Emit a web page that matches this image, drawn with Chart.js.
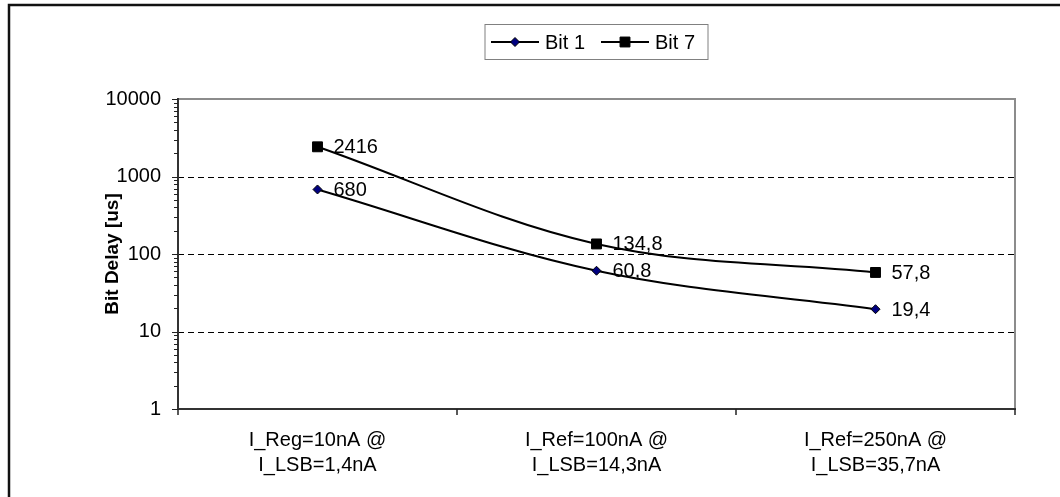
<!DOCTYPE html>
<html>
<head>
<meta charset="utf-8">
<script src="https://cdn.jsdelivr.net/npm/chart.js@4/dist/chart.umd.min.js"></script>
<style>
  html, body { margin: 0; padding: 0; background: #fff; }
  canvas { display: block; }
</style>
</head>
<body>
<canvas id="c" width="1060" height="497"></canvas>
<script>
// Bit delay measured for three bias settings (log scale)
const categories = [
  ['I_Reg=10nA @', 'I_LSB=1,4nA'],
  ['I_Ref=100nA @', 'I_LSB=14,3nA'],
  ['I_Ref=250nA @', 'I_LSB=35,7nA']
];
const bit1 = [680, 60.8, 19.4];
const bit7 = [2416, 134.8, 57.8];
const yTicks = [1, 10, 100, 1000, 10000];
const yTitle = 'Bit Delay [us]';

const FONT = '"Liberation Sans", Arial, sans-serif';
const FS = 20;

const fmt = v => String(v).replace('.', ',');

function drawMarker(ctx, style, r, x, y) {
  if (style === 'rectRot') {
    ctx.moveTo(x, y - r);
    ctx.lineTo(x + r, y);
    ctx.lineTo(x, y + r);
    ctx.lineTo(x - r, y);
    ctx.closePath();
  } else {
    const s = r * Math.SQRT1_2;
    ctx.rect(x - s, y - s, 2 * s, 2 * s);
  }
}

// Frame, dashed decade gridlines, tick marks, legend and value labels
const decor = {
  id: 'decor',
  beforeDatasetsDraw(chart) {
    const ctx = chart.ctx;
    const a = chart.chartArea;
    const y = chart.scales.y;
    const x = chart.scales.x;
    ctx.save();
    // dashed gridlines at inner decades
    ctx.strokeStyle = '#000';
    ctx.lineWidth = 1;
    ctx.setLineDash([6, 4]);
    yTicks.forEach(v => {
      if (v === yTicks[0] || v === yTicks[yTicks.length - 1]) return;
      const py = Math.round(y.getPixelForValue(v)) + 0.5;
      ctx.beginPath();
      ctx.moveTo(a.left, py);
      ctx.lineTo(a.right, py);
      ctx.stroke();
    });
    ctx.setLineDash([]);
    // plot area top/right border
    ctx.strokeStyle = '#8c8c8c';
    ctx.lineWidth = 2;
    ctx.beginPath();
    ctx.moveTo(a.left, a.top);
    ctx.lineTo(a.right, a.top);
    ctx.lineTo(a.right, a.bottom);
    ctx.stroke();
    // axis lines
    ctx.strokeStyle = '#333';
    ctx.lineWidth = 2;
    ctx.beginPath();
    ctx.moveTo(a.left, a.top - 1);
    ctx.lineTo(a.left, a.bottom);
    ctx.lineTo(a.right + 1, a.bottom);
    ctx.stroke();
    // y tick marks: major and minor
    ctx.lineWidth = 1;
    ctx.strokeStyle = '#222';
    for (let i = 0; i < yTicks.length; i++) {
      const d = yTicks[i];
      const py = Math.round(y.getPixelForValue(d)) + 0.5;
      ctx.beginPath();
      ctx.moveTo(a.left - 6, py);
      ctx.lineTo(a.left, py);
      ctx.stroke();
      if (i < yTicks.length - 1) {
        for (let k = 2; k <= 9; k++) {
          const pm = Math.round(y.getPixelForValue(d * k)) + 0.5;
          ctx.beginPath();
          ctx.moveTo(a.left - 4, pm);
          ctx.lineTo(a.left, pm);
          ctx.stroke();
        }
      }
    }
    // x tick marks at category boundaries
    ctx.lineWidth = 1.5;
    const step = x.getPixelForValue(1) - x.getPixelForValue(0);
    for (let i = 0; i <= categories.length; i++) {
      const px = i < categories.length ? x.getPixelForValue(i) - step / 2 : a.right;
      ctx.beginPath();
      ctx.moveTo(Math.round(px), a.bottom);
      ctx.lineTo(Math.round(px), a.bottom + 6);
      ctx.stroke();
    }
    ctx.restore();
  },
  afterDatasetsDraw(chart) {
    const ctx = chart.ctx;
    const a = chart.chartArea;
    ctx.save();
    // value labels to the right of each point
    ctx.fillStyle = '#000';
    ctx.font = FS + 'px ' + FONT;
    ctx.textAlign = 'left';
    ctx.textBaseline = 'middle';
    chart.data.datasets.forEach((ds, di) => {
      const meta = chart.getDatasetMeta(di);
      meta.data.forEach((pt, i) => {
        ctx.fillText(fmt(ds.data[i]), pt.x + 16, pt.y + 1);
      });
    });
    // y axis title
    ctx.save();
    ctx.translate(113, (a.top + a.bottom) / 2);
    ctx.rotate(-Math.PI / 2);
    ctx.font = 'bold 19px ' + FONT;
    ctx.textAlign = 'center';
    ctx.textBaseline = 'middle';
    ctx.fillText(yTitle, 0, 0);
    ctx.restore();
    // legend box
    const cx = (a.left + a.right) / 2;
    ctx.fillStyle = '#fff';
    ctx.fillRect(cx - 111.5, 24.5, 223, 35);
    ctx.strokeStyle = '#808080';
    ctx.lineWidth = 1;
    ctx.strokeRect(cx - 111.5, 24.5, 223, 35);
    const ly = 42;
    const offs = [-105.5, 4.5];
    chart.data.datasets.forEach((ds, di) => {
      const x0 = cx + offs[di];
      ctx.strokeStyle = '#000';
      ctx.lineWidth = 2;
      ctx.beginPath();
      ctx.moveTo(x0, ly);
      ctx.lineTo(x0 + 48, ly);
      ctx.stroke();
      ctx.fillStyle = ds.pointBackgroundColor;
      ctx.lineWidth = 1;
      ctx.beginPath();
      drawMarker(ctx, ds.pointStyle, ds.pointRadius, x0 + 24, ly);
      ctx.fill();
      ctx.stroke();
      ctx.fillStyle = '#000';
      ctx.font = FS + 'px ' + FONT;
      ctx.textAlign = 'left';
      ctx.textBaseline = 'middle';
      ctx.fillText(ds.label, x0 + 54, ly + 1);
    });
    // outer frame (top and left edges)
    ctx.strokeStyle = '#111';
    ctx.lineWidth = 2.5;
    ctx.beginPath();
    ctx.moveTo(9, chart.height + 5);
    ctx.lineTo(9, 5);
    ctx.lineTo(chart.width + 5, 5);
    ctx.stroke();
    ctx.restore();
  }
};

new Chart(document.getElementById('c'), {
  type: 'line',
  data: {
    labels: categories,
    datasets: [
      {
        label: 'Bit 1',
        data: bit1,
        borderColor: '#000',
        borderWidth: 2,
        tension: 0.35,
        pointStyle: 'rectRot',
        pointRadius: 4.5,
        pointBackgroundColor: '#000080',
        pointBorderColor: '#000',
        pointBorderWidth: 1,
        fill: false
      },
      {
        label: 'Bit 7',
        data: bit7,
        borderColor: '#000',
        borderWidth: 2,
        tension: 0.35,
        pointStyle: 'rect',
        pointRadius: 7,
        pointBackgroundColor: '#000',
        pointBorderColor: '#000',
        pointBorderWidth: 1,
        fill: false
      }
    ]
  },
  options: {
    responsive: false,
    animation: false,
    layout: { padding: { left: 0, top: 99, right: 45, bottom: 0 } },
    plugins: {
      legend: { display: false },
      tooltip: { enabled: false }
    },
    scales: {
      x: {
        type: 'category',
        offset: true,
        grid: { display: false, drawTicks: false },
        border: { display: false },
        ticks: {
          color: '#000',
          font: { family: FONT, size: FS, lineHeight: 1.25 },
          padding: 19,
          maxRotation: 0,
          autoSkip: false
        },
        afterFit: s => { s.height = 88; }
      },
      y: {
        type: 'logarithmic',
        min: yTicks[0],
        max: yTicks[yTicks.length - 1],
        grid: { display: false, drawTicks: false },
        border: { display: false },
        ticks: {
          color: '#000',
          font: { family: FONT, size: FS },
          padding: 17,
          autoSkip: false,
          callback: v => (yTicks.includes(v) ? String(v) : '')
        },
        afterFit: s => { s.width = 178; }
      }
    }
  },
  plugins: [decor]
});
</script>
</body>
</html>
